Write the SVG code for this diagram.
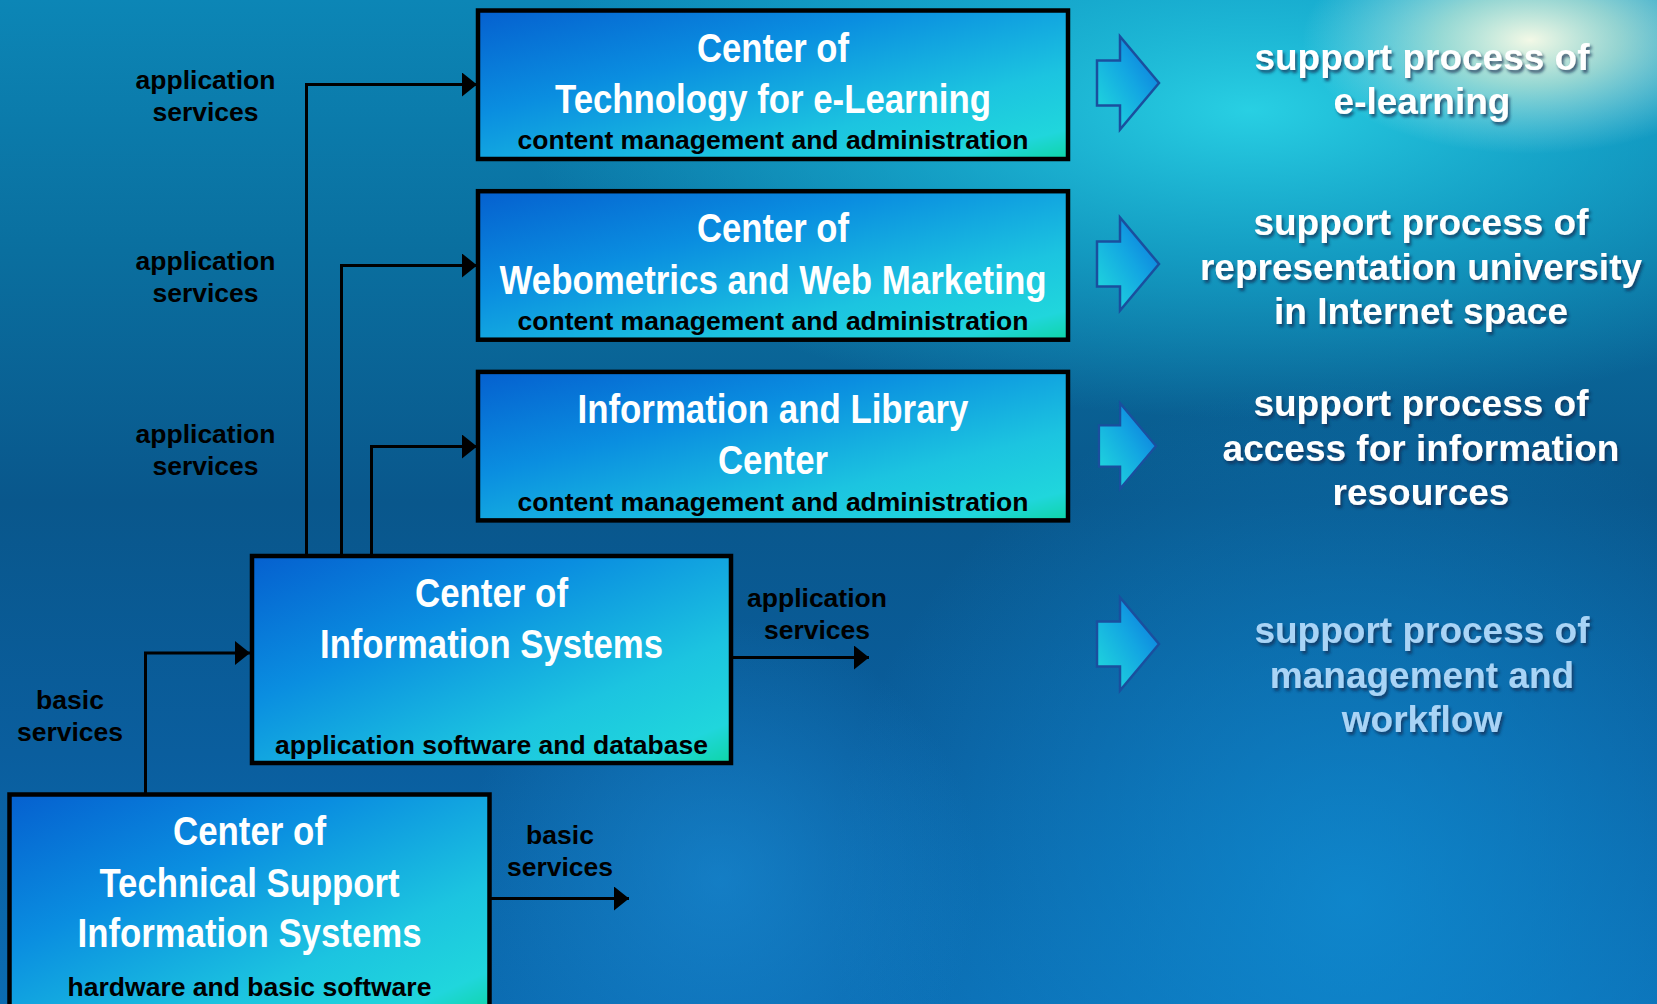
<svg xmlns="http://www.w3.org/2000/svg" width="1657" height="1004" viewBox="0 0 1657 1004">
<style>
.box{stroke:#000;stroke-width:4.5}
.title{font-family:"Liberation Sans",Arial,sans-serif;font-weight:bold;font-size:40px;fill:#fff;text-anchor:middle}
.sub{font-family:"Liberation Sans",Arial,sans-serif;font-weight:bold;font-size:26.5px;fill:#000;text-anchor:middle}
.lbl{font-family:"Liberation Sans",Arial,sans-serif;font-weight:bold;font-size:26.5px;fill:#000;text-anchor:middle}
.proc{font-family:"Liberation Sans",Arial,sans-serif;font-weight:bold;font-size:37px;fill:#fff;text-anchor:middle;filter:url(#shadow)}
.proc.dim{fill:#a9d4f6}
.conn{fill:none;stroke:#000;stroke-width:3}
.barrow{fill:url(#arrowGrad);stroke:#1a4f9e;stroke-width:2.5;stroke-linejoin:miter}
</style>
<defs>
<linearGradient id="bgV" x1="0" y1="0" x2="0" y2="1">
<stop offset="0" stop-color="#0c86b6"/>
<stop offset="0.25" stop-color="#0a6f9f"/>
<stop offset="0.5" stop-color="#09578c"/>
<stop offset="0.75" stop-color="#0a5e9e"/>
<stop offset="1" stop-color="#0b6cb2"/>
</linearGradient>
<radialGradient id="glowCyan" cx="1250" cy="110" r="560" gradientUnits="userSpaceOnUse" gradientTransform="translate(1250 110) scale(1.3 0.55) translate(-1250 -110)">
<stop offset="0" stop-color="#2ad4e6" stop-opacity="0.95"/>
<stop offset="0.5" stop-color="#1ab8d8" stop-opacity="0.6"/>
<stop offset="1" stop-color="#1ab8d8" stop-opacity="0"/>
</radialGradient>
<radialGradient id="glowWhite" cx="1530" cy="40" r="190" gradientUnits="userSpaceOnUse" gradientTransform="translate(1530 40) scale(1.2 0.6) translate(-1530 -40)">
<stop offset="0" stop-color="#fffde8" stop-opacity="0.95"/>
<stop offset="0.4" stop-color="#e8f6d8" stop-opacity="0.6"/>
<stop offset="1" stop-color="#c8f0f0" stop-opacity="0"/>
</radialGradient>
<radialGradient id="glowBottom" cx="1350" cy="900" r="520" gradientUnits="userSpaceOnUse">
<stop offset="0" stop-color="#1090d6" stop-opacity="0.75"/>
<stop offset="1" stop-color="#1090d6" stop-opacity="0"/>
</radialGradient>
<radialGradient id="glowMid" cx="720" cy="880" r="260" gradientUnits="userSpaceOnUse">
<stop offset="0" stop-color="#1a8ed8" stop-opacity="0.6"/>
<stop offset="1" stop-color="#1a8ed8" stop-opacity="0"/>
</radialGradient>
<linearGradient id="boxGrad" x1="0" y1="0" x2="1" y2="1">
<stop offset="0" stop-color="#0560cf"/>
<stop offset="0.35" stop-color="#0a8ee0"/>
<stop offset="0.7" stop-color="#1cc4e0"/>
<stop offset="0.9" stop-color="#20d6dc"/>
<stop offset="1" stop-color="#0ed6a6"/>
</linearGradient>
<linearGradient id="arrowGrad" x1="0" y1="1" x2="1" y2="0">
<stop offset="0" stop-color="#22e0dc"/>
<stop offset="0.55" stop-color="#13a6e2"/>
<stop offset="1" stop-color="#0a6edc"/>
</linearGradient>
<filter id="shadow" x="-10%" y="-30%" width="120%" height="160%">
<feDropShadow dx="2" dy="3" stdDeviation="1.5" flood-color="#0a2a50" flood-opacity="0.7"/>
</filter>
<marker id="ah" markerUnits="userSpaceOnUse" markerWidth="15" markerHeight="24" refX="15" refY="12" orient="auto">
<path d="M0,0 L15,12 L0,24 Z" fill="#000"/>
</marker>
<path id="bArrow" d="M-62,-22.5 H-39 V-46.5 L0,0 L-39,46.5 V22.5 H-62 Z"/>
</defs>

<g id="background">
<rect x="0" y="0" width="1657" height="1004" fill="url(#bgV)"/>
<rect x="0" y="0" width="1657" height="1004" fill="url(#glowCyan)"/>
<rect x="0" y="0" width="1657" height="1004" fill="url(#glowBottom)"/>
<rect x="0" y="0" width="1657" height="1004" fill="url(#glowMid)"/>
<rect x="0" y="0" width="1657" height="1004" fill="url(#glowWhite)"/>
</g>

<g id="connectors">
<path class="conn" d="M306.5,556 V84.5 H477" marker-end="url(#ah)"/>
<path class="conn" d="M341.5,556 V265.5 H477" marker-end="url(#ah)"/>
<path class="conn" d="M371.5,556 V446.5 H477" marker-end="url(#ah)"/>
<path class="conn" d="M145.5,794 V653 H250" marker-end="url(#ah)"/>
<path class="conn" d="M731,657.5 H869" marker-end="url(#ah)"/>
<path class="conn" d="M489.5,898.5 H629" marker-end="url(#ah)"/>
<text class="lbl" x="205.5" y="89">application</text>
<text class="lbl" x="205.5" y="121">services</text>
<text class="lbl" x="205.5" y="270">application</text>
<text class="lbl" x="205.5" y="302">services</text>
<text class="lbl" x="205.5" y="443">application</text>
<text class="lbl" x="205.5" y="475">services</text>
<text class="lbl" x="70" y="709">basic</text>
<text class="lbl" x="70" y="741">services</text>
<text class="lbl" x="817" y="607">application</text>
<text class="lbl" x="817" y="639">services</text>
<text class="lbl" x="560" y="844">basic</text>
<text class="lbl" x="560" y="876">services</text>
</g>

<g id="node-elearning">
<rect class="box" x="478" y="10.5" width="590" height="148.5" fill="url(#boxGrad)"/>
<text class="title" x="773" y="61.5" textLength="152" lengthAdjust="spacingAndGlyphs">Center of</text>
<text class="title" x="773" y="113" textLength="436" lengthAdjust="spacingAndGlyphs">Technology for e-Learning</text>
<text class="sub" x="773" y="149">content management and administration</text>
</g>

<g id="node-webometrics">
<rect class="box" x="478" y="191.2" width="590" height="148.5" fill="url(#boxGrad)"/>
<text class="title" x="773" y="242.2" textLength="152" lengthAdjust="spacingAndGlyphs">Center of</text>
<text class="title" x="773" y="293.7" textLength="547" lengthAdjust="spacingAndGlyphs">Webometrics and Web Marketing</text>
<text class="sub" x="773" y="329.7">content management and administration</text>
</g>

<g id="node-library">
<rect class="box" x="478" y="371.9" width="590" height="148.5" fill="url(#boxGrad)"/>
<text class="title" x="773" y="422.9" textLength="391" lengthAdjust="spacingAndGlyphs">Information and Library</text>
<text class="title" x="773" y="474.4" textLength="110" lengthAdjust="spacingAndGlyphs">Center</text>
<text class="sub" x="773" y="511">content management and administration</text>
</g>

<g id="node-cis">
<rect class="box" x="252" y="556" width="479" height="207" fill="url(#boxGrad)"/>
<text class="title" x="491.5" y="606.5" textLength="153" lengthAdjust="spacingAndGlyphs">Center of</text>
<text class="title" x="491.5" y="658" textLength="343" lengthAdjust="spacingAndGlyphs">Information Systems</text>
<text class="sub" x="491.5" y="754">application software and database</text>
</g>

<g id="node-cts">
<rect class="box" x="9.5" y="794.5" width="480" height="220" fill="url(#boxGrad)"/>
<text class="title" x="249.5" y="845" textLength="153" lengthAdjust="spacingAndGlyphs">Center of</text>
<text class="title" x="249.5" y="896.5" textLength="300" lengthAdjust="spacingAndGlyphs">Technical Support</text>
<text class="title" x="249.5" y="946.5" textLength="344" lengthAdjust="spacingAndGlyphs">Information Systems</text>
<text class="sub" x="249.5" y="996">hardware and basic software</text>
</g>

<g id="process-elearning">
<use href="#bArrow" class="barrow" transform="translate(1159,83)"/>
<text class="proc" x="1422" y="70">support process of</text>
<text class="proc" x="1422" y="114">e-learning</text>
</g>

<g id="process-representation">
<use href="#bArrow" class="barrow" transform="translate(1159,264)"/>
<text class="proc" x="1421" y="235">support process of</text>
<text class="proc" x="1421" y="280">representation university</text>
<text class="proc" x="1421" y="324">in Internet space</text>
</g>

<g id="process-access">
<use href="#bArrow" class="barrow" transform="translate(1156,446) scale(0.92)"/>
<text class="proc" x="1421" y="416">support process of</text>
<text class="proc" x="1421" y="461">access for information</text>
<text class="proc" x="1421" y="505">resources</text>
</g>

<g id="process-management">
<use href="#bArrow" class="barrow" transform="translate(1159,644)"/>
<text class="proc dim" x="1422" y="643">support process of</text>
<text class="proc dim" x="1422" y="688">management and</text>
<text class="proc dim" x="1422" y="732">workflow</text>
</g>
</svg>
